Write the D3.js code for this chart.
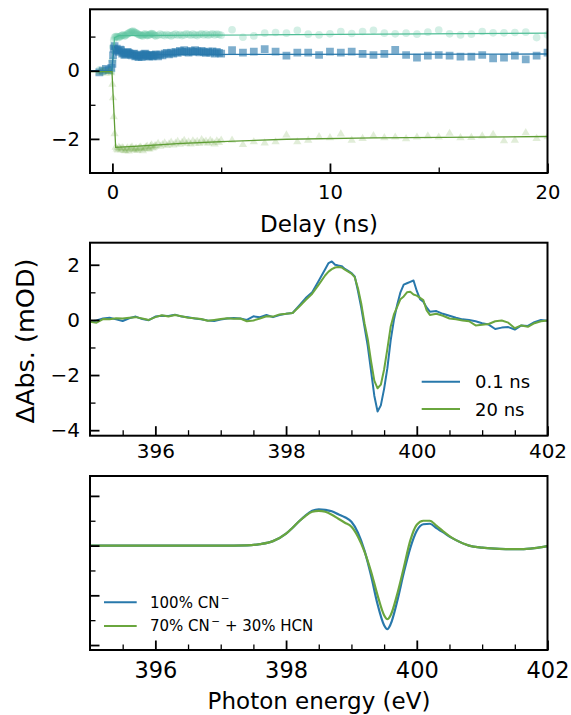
<!DOCTYPE html>
<meta charset="utf-8">
<style>
body { margin: 0; background: #fff; }
svg { font-family: "DejaVu Sans", sans-serif; }
</style>
<body>
<script src="https://cdn.jsdelivr.net/npm/d3@7"></script>
<script>

// ---- top panel: kinetics (delay in ns) ----
var delays = [
  -0.6, -0.45, -0.3, -0.15, -0.05, 0, 0.03, 0.06, 0.1, 0.15,
  0.2, 0.3, 0.4, 0.5, 0.6, 0.7, 0.8, 0.9, 1.0, 1.1,
  1.2, 1.3, 1.4, 1.5, 1.6, 1.7, 1.8, 1.9, 2.0, 2.1,
  2.2, 2.3, 2.4, 2.5, 2.6, 2.7, 2.8, 2.9, 3.0, 3.1,
  3.2, 3.3, 3.4, 3.5, 3.6, 3.7, 3.8, 3.9, 4.0, 4.1,
  4.2, 4.3, 4.4, 4.5, 4.6, 4.7, 4.8, 4.9, 5.0,
  5.5, 6, 6.5, 7, 7.5, 8, 8.5, 9, 9.5, 10,
  10.5, 11, 11.5, 12, 12.5, 13, 13.5, 14, 14.5, 15,
  15.5, 16, 16.5, 17, 17.5, 18, 18.5, 19, 19.5, 20,
  // finer sampling at early delays
  0.25, 0.35, 0.45, 0.55, 0.65, 0.75, 0.85, 0.95, 1.05, 1.15,
  1.25, 1.35, 1.45, 1.55, 1.65, 1.75, 1.85, 1.95
];
var tealKin = [
  0.02, -0.03, 0.01, 0.03, -0.02, 0.3, 0.7, 0.9, 0.98, 1.0,
  1.0, 0.97, 1.02, 1.05, 1.03, 1.08, 1.12, 1.15, 1.13, 1.1,
  1.06, 1.04, 1.02, 1.08, 1.03, 1.05, 1.09, 1.06, 1.02, 1.04,
  1.07, 1.05, 1.03, 1.06, 1.04, 1.02, 1.05, 1.07, 1.04, 1.06,
  1.03, 1.05, 1.08, 1.06, 1.04, 1.07, 1.05, 1.03, 1.06, 1.08,
  1.05, 1.07, 1.04, 1.06, 1.08, 1.05, 1.07, 1.06, 1.04,
  1.2, 0.98, 1.02, 1.1, 1.12, 1.1, 1.18, 1.07, 1.05, 1.08,
  1.15, 1.09, 1.15, 1.18, 1.1, 1.08, 1.1, 1.07, 1.13, 1.19,
  1.08, 1.05, 1.07, 1.15, 1.11, 1.11, 1.12, 1.13, 0.97, 1.05,
  0.99, 1.0, 1.04, 1.02, 1.06, 1.1, 1.14, 1.16, 1.12, 1.08,
  1.05, 1.03, 1.06, 1.05, 1.04, 1.07, 1.08, 1.03
];
var blueKin = [
  -0.05, 0.0, 0.05, 0.02, 0.08, 0.2, 0.45, 0.65, 0.72, 0.6,
  0.65, 0.55, 0.6, 0.52, 0.48, 0.55, 0.5, 0.45, 0.5, 0.44,
  0.4, 0.47, 0.43, 0.5, 0.45, 0.41, 0.46, 0.44, 0.48, 0.42,
  0.47, 0.45, 0.5, 0.52, 0.48, 0.53, 0.5, 0.55, 0.52, 0.58,
  0.55, 0.6, 0.56, 0.53, 0.58, 0.55, 0.6, 0.57, 0.54, 0.58,
  0.55, 0.52, 0.56, 0.53, 0.57, 0.5, 0.55, 0.52, 0.5,
  0.6, 0.53, 0.56, 0.63, 0.56, 0.44, 0.53, 0.53, 0.46, 0.56,
  0.53, 0.56, 0.49, 0.46, 0.49, 0.61, 0.46, 0.38, 0.44, 0.46,
  0.44, 0.41, 0.41, 0.46, 0.36, 0.38, 0.44, 0.33, 0.44, 0.53,
  0.58, 0.62, 0.5, 0.46, 0.53, 0.52, 0.47, 0.49, 0.42, 0.45,
  0.44, 0.4, 0.48, 0.47, 0.43, 0.45, 0.42, 0.46
];
var greenKin = [
  -0.05, 0.0, -0.08, -0.03, -0.06, -0.4, -0.8, -1.35, -1.85, -2.25,
  -2.3, -2.25, -2.32, -2.28, -2.35, -2.27, -2.3, -2.24, -2.33, -2.28,
  -2.3, -2.25, -2.35, -2.27, -2.22, -2.3, -2.18, -2.25, -2.2, -2.14,
  -2.22, -2.17, -2.12, -2.2, -2.15, -2.1, -2.18, -2.13, -2.08, -2.16,
  -2.11, -2.05, -2.14, -2.09, -2.15, -2.06, -2.12, -2.08, -2.14, -2.03,
  -2.1, -2.07, -2.13, -2.05, -2.1, -2.15, -2.06, -2.11, -2.04,
  -2.04, -2.17, -2.09, -2.12, -2.09, -1.89, -2.09, -2.04, -1.94, -1.97,
  -1.86, -2.04, -1.99, -1.91, -1.97, -1.95, -2.0, -1.95, -1.92, -1.95,
  -1.84, -1.97, -1.96, -1.92, -1.87, -2.06, -2.04, -1.82, -1.99, -1.94,
  -2.33, -2.28, -2.26, -2.34, -2.3, -2.36, -2.27, -2.31, -2.29, -2.34,
  -2.26, -2.3, -2.28, -2.24, -2.29, -2.22, -2.27, -2.21
];

// fitted curves
var tealFitT = [-1, -0.03, 0.1, 0.3, 20];
var tealFitV = [0, 0, 0.97, 1.03, 1.1];
var blueFitT = [-1, -0.03, 0.08, 0.3, 1, 20];
var blueFitV = [0, 0, 0.72, 0.55, 0.47, 0.49];
var greenFitT = [-1, -0.02, 0.15, 1, 3, 5, 8, 12, 20];
var greenFitV = [-0.03, -0.03, -2.25, -2.22, -2.14, -2.08, -2.01, -1.97, -1.93];

// ---- middle panel: measured transient spectra ----
var specEnergy = [
  395.0, 395.1, 395.2, 395.3, 395.4, 395.5, 395.6, 395.7, 395.8, 395.9,
  396.0, 396.1, 396.2, 396.3, 396.4, 396.5, 396.6, 396.7, 396.8, 396.9,
  397.0, 397.1, 397.2, 397.3, 397.4, 397.5, 397.6, 397.7, 397.8, 397.9,
  398.0, 398.1, 398.2, 398.3, 398.4, 398.5, 398.6, 398.65, 398.7, 398.75,
  398.8, 398.85, 398.9, 398.95, 399.0, 399.05, 399.1, 399.15, 399.2, 399.25,
  399.3, 399.35, 399.4, 399.45, 399.5, 399.55, 399.6, 399.65, 399.7, 399.75,
  399.8, 399.85, 399.9, 399.95, 400.0, 400.05, 400.1, 400.15, 400.2, 400.3,
  400.4, 400.5, 400.6, 400.7, 400.8, 400.9, 401.0, 401.1, 401.2, 401.3,
  401.4, 401.5, 401.6, 401.7, 401.8, 401.9, 402.0
];
var spec01ns = [
  -0.07, -0.02, 0.05, 0.08, 0.02, -0.04, 0.06, 0.12, 0.03, -0.01,
  0.12, 0.15, 0.14, 0.19, 0.12, 0.1, 0.05, 0.02, -0.02, -0.04,
  0.01, 0.05, 0.07, 0.05, 0.0, 0.13, 0.1, 0.18, 0.1, 0.18,
  0.22, 0.25, 0.52, 0.79, 1.0, 1.42, 1.85, 2.06, 2.12, 2.0,
  1.97, 1.95, 1.85, 1.78, 1.7, 1.58, 1.05, 0.45, -0.25, -0.95,
  -1.85, -2.75, -3.32, -3.1, -2.5, -1.75, -0.75, 0.0, 0.55, 1.0,
  1.28, 1.33, 1.38, 1.43, 1.05, 0.75, 0.66, 0.45, 0.3, 0.32,
  0.22, 0.15, 0.08, 0.02, 0.0, -0.05, -0.12, -0.17, -0.33, -0.28,
  -0.26, -0.35, -0.2, -0.22, -0.08, 0.0, -0.03
];
var spec20ns = [
  -0.07, -0.1, 0.03, 0.02, 0.06, 0.05, 0.08, 0.1, 0.05, 0.0,
  0.1, 0.17, 0.12, 0.18, 0.13, 0.08, 0.06, 0.03, -0.03, 0.0,
  0.03, 0.06, 0.04, 0.05, -0.05, -0.02, 0.05, 0.13, 0.12, 0.2,
  0.22, 0.25, 0.48, 0.72, 0.95, 1.28, 1.62, 1.75, 1.84, 1.9,
  1.92, 1.9, 1.82, 1.75, 1.68, 1.55, 1.15, 0.6, -0.12, -0.7,
  -1.5, -2.2, -2.48, -2.35, -1.8, -1.05, -0.25, 0.2, 0.47, 0.75,
  0.85, 1.0, 1.02, 0.92, 0.88, 0.8, 0.72, 0.35, 0.18, 0.22,
  0.15, 0.05, 0.02, -0.02, -0.05, -0.2, -0.18, -0.15, -0.05, -0.02,
  -0.1, -0.3, -0.2, -0.25, -0.12, -0.05, -0.02
];

// ---- bottom panel: calculated difference spectra (arb. units) ----
var calcEnergy = [
  395.0, 396.0, 397.0, 397.4, 397.6, 397.8, 398.0, 398.1, 398.2, 398.3,
  398.4, 398.5, 398.6, 398.7, 398.8, 398.9, 399.0, 399.1, 399.2, 399.3,
  399.4, 399.5, 399.55, 399.6, 399.7, 399.8, 399.9, 400.0, 400.1, 400.2,
  400.3, 400.4, 400.5, 400.6, 400.8, 401.0, 401.2, 401.4, 401.6, 401.8, 402.0
];
var calcCN = [
  0, 0, 0, 0.005, 0.03, 0.09, 0.24, 0.36, 0.49, 0.61,
  0.7, 0.73, 0.72, 0.69, 0.63, 0.57, 0.48, 0.26, -0.1, -0.6,
  -1.18, -1.6, -1.68, -1.58, -1.12, -0.55, -0.05, 0.3, 0.43, 0.44,
  0.35, 0.27, 0.18, 0.11, 0.0, -0.04, -0.06, -0.07, -0.07, -0.05, -0.01
];
var calcMix = [
  0, 0, 0, 0.005, 0.03, 0.09, 0.24, 0.36, 0.49, 0.6,
  0.68, 0.7, 0.68, 0.62, 0.54, 0.46, 0.38, 0.18, -0.12, -0.52,
  -1.0, -1.4, -1.48, -1.4, -0.98, -0.45, 0.1, 0.42, 0.5, 0.5,
  0.4, 0.29, 0.19, 0.11, 0.0, -0.04, -0.06, -0.07, -0.07, -0.05, -0.01
];

// ticks
var delayMajor = [0, 10, 20], delayMinor = [5, 15];
var kinMajor = [-2, 0], kinMinor = [-1, 1];
var eMajor = [396, 398, 400, 402], eMinor = [395.5, 396.5, 397, 397.5, 398.5, 399, 399.5, 400.5, 401, 401.5];
var absMajor = [-4, -2, 0, 2], absMinor = [-3, -1, 1];
var calcMajor = [-2, -1, 0, 1], calcMinor = [-1.5, -0.5, 0.5];

var cBlue = "#2878ab", cGreen = "#6aa63e", cTeal = "#4fbe96";

var width = 571, height = 715;
var left = 90, right = 547.5;

var svg = d3.select("body").append("svg")
    .attr("width", width)
    .attr("height", height);

function panel(name, top, bottom, xDom, yDom) {
  var x = d3.scaleLinear().domain(xDom).range([left, right]);
  var y = d3.scaleLinear().domain(yDom).range([bottom, top]);
  svg.append("clipPath").attr("id", "clip-" + name)
    .append("rect")
      .attr("x", left).attr("y", top)
      .attr("width", right - left).attr("height", bottom - top);
  var g = svg.append("g").attr("clip-path", "url(#clip-" + name + ")");
  return {x: x, y: y, g: g, top: top, bottom: bottom};
}

function styleAxis(sel, fontSize, width) {
  sel.select(".domain").remove();
  sel.attr("font-family", "DejaVu Sans").attr("font-size", fontSize);
  sel.selectAll("line").attr("stroke", "#000").attr("stroke-width", width);
  sel.selectAll("text").attr("fill", "#000");
}

function axes(p, o) {
  var fmt = d3.format("d");
  svg.append("g")
      .attr("transform", "translate(0," + p.bottom + ")")
      .call(d3.axisBottom(p.x).tickValues(o.xMajor).tickSize(-9.5).tickPadding(o.xPad).tickFormat(fmt))
      .call(styleAxis, o.font, 1.8);
  svg.append("g")
      .attr("transform", "translate(0," + p.bottom + ")")
      .call(d3.axisBottom(p.x).tickValues(o.xMinor).tickSize(-5.5).tickFormat(""))
      .call(styleAxis, o.font, 1.3);
  svg.append("g")
      .attr("transform", "translate(" + left + ",0)")
      .call(d3.axisLeft(p.y).tickValues(o.yMajor).tickSize(-9.5).tickPadding(10)
        .tickFormat(o.yLabels ? fmt : ""))
      .call(styleAxis, o.font, 1.8);
  svg.append("g")
      .attr("transform", "translate(" + left + ",0)")
      .call(d3.axisLeft(p.y).tickValues(o.yMinor).tickSize(-5.5).tickFormat(""))
      .call(styleAxis, o.font, 1.3);
  svg.append("rect")
      .attr("x", left).attr("y", p.top)
      .attr("width", right - left).attr("height", p.bottom - p.top)
      .attr("fill", "none").attr("stroke", "#000").attr("stroke-width", 2);
}

function series(xs, ys) {
  return xs.map(function(d, i) { return [d, ys[i]]; });
}

// ---------- top ----------
var p1 = panel("kin", 9.3, 173, [-1.03, 20], [-3, 1.8]);

var markers = [
  {vals: tealKin, color: cTeal, type: d3.symbolCircle, size: 46, alpha: 0.25},
  {vals: blueKin, color: cBlue, type: d3.symbolSquare, size: 60, alpha: 0.6},
  {vals: greenKin, color: cGreen, type: d3.symbolTriangle, size: 30, alpha: 0.2}
];

markers.forEach(function(m) {
  p1.g.selectAll(null)
      .data(series(delays, m.vals))
    .enter().append("path")
      .attr("d", d3.symbol().type(m.type).size(m.size))
      .attr("transform", function(d) { return "translate(" + p1.x(d[0]) + "," + p1.y(d[1]) + ")"; })
      .attr("fill", m.color)
      .attr("fill-opacity", m.alpha);
});

var line1 = d3.line()
    .x(function(d) { return p1.x(d[0]); })
    .y(function(d) { return p1.y(d[1]); });

[[tealFitT, tealFitV, cTeal], [blueFitT, blueFitV, cBlue], [greenFitT, greenFitV, "#5e9d34"]].forEach(function(f) {
  p1.g.append("path")
      .attr("d", line1(series(f[0], f[1])))
      .attr("fill", "none")
      .attr("stroke", f[2])
      .attr("stroke-width", 1.3);
});

axes(p1, {xMajor: delayMajor, xMinor: delayMinor, yMajor: kinMajor, yMinor: kinMinor,
          yLabels: true, font: 19.5, xPad: 12});

svg.append("text")
    .attr("x", 319).attr("y", 232)
    .attr("text-anchor", "middle")
    .attr("font-size", 23)
    .text("Delay (ns)");

// ---------- middle ----------
var p2 = panel("spec", 242.7, 435.7, [395, 402], [-4.2, 2.8]);

var line2 = d3.line()
    .x(function(d) { return p2.x(d[0]); })
    .y(function(d) { return p2.y(d[1]); });

[[spec01ns, cBlue], [spec20ns, cGreen]].forEach(function(s) {
  p2.g.append("path")
      .attr("d", line2(series(specEnergy, s[0])))
      .attr("fill", "none")
      .attr("stroke", s[1])
      .attr("stroke-width", 2)
      .attr("stroke-linejoin", "round");
});

axes(p2, {xMajor: eMajor, xMinor: eMinor, yMajor: absMajor, yMinor: absMinor,
          yLabels: true, font: 20, xPad: 8});

var leg2 = [["0.1 ns", cBlue], ["20 ns", cGreen]];
leg2.forEach(function(l, i) {
  var yy = 381.7 + i * 27.3;
  svg.append("line")
      .attr("x1", 421.7).attr("x2", 460)
      .attr("y1", yy).attr("y2", yy)
      .attr("stroke", l[1]).attr("stroke-width", 2);
  svg.append("text")
      .attr("x", 475).attr("y", yy + 6.5)
      .attr("font-size", 18)
      .text(l[0]);
});

svg.append("text")
    .attr("transform", "translate(33.5,341) rotate(-90)")
    .attr("text-anchor", "middle")
    .attr("font-size", 25.5)
    .text("ΔAbs. (mOD)");

// ---------- bottom ----------
var p3 = panel("calc", 476, 650, [395, 402], [-2.1, 1.4]);

var line3 = d3.line()
    .curve(d3.curveMonotoneX)
    .x(function(d) { return p3.x(d[0]); })
    .y(function(d) { return p3.y(d[1]); });

[[calcCN, cBlue], [calcMix, cGreen]].forEach(function(s) {
  p3.g.append("path")
      .attr("d", line3(series(calcEnergy, s[0])))
      .attr("fill", "none")
      .attr("stroke", s[1])
      .attr("stroke-width", 2.2);
});

axes(p3, {xMajor: eMajor, xMinor: eMinor, yMajor: calcMajor, yMinor: calcMinor,
          yLabels: false, font: 22.5, xPad: 12.5});

var leg3 = [
  [["100% CN", ""], ["\u2212", "sup"]],
  [["70% CN", ""], ["\u2212", "sup"], [" + 30% HCN", ""]]
];
var legColors = [cBlue, cGreen];
leg3.forEach(function(parts, i) {
  var yy = 602.3 + i * 23.7;
  svg.append("line")
      .attr("x1", 104).attr("x2", 136.7)
      .attr("y1", yy).attr("y2", yy)
      .attr("stroke", legColors[i]).attr("stroke-width", 2);
  var t = svg.append("text")
      .attr("x", 150).attr("y", yy + 5.3)
      .attr("font-size", 15);
  var shifted = false;
  parts.forEach(function(pt) {
    var ts = t.append("tspan").text(pt[0]);
    if (pt[1] === "sup") {
      ts.attr("dy", -6).attr("dx", 1.5).attr("font-size", 10.5);
      shifted = true;
    } else if (shifted) {
      ts.attr("dy", 6);
      shifted = false;
    }
  });
});

svg.append("text")
    .attr("x", 319).attr("y", 708.5)
    .attr("text-anchor", "middle")
    .attr("font-size", 23)
    .text("Photon energy (eV)");

</script>
